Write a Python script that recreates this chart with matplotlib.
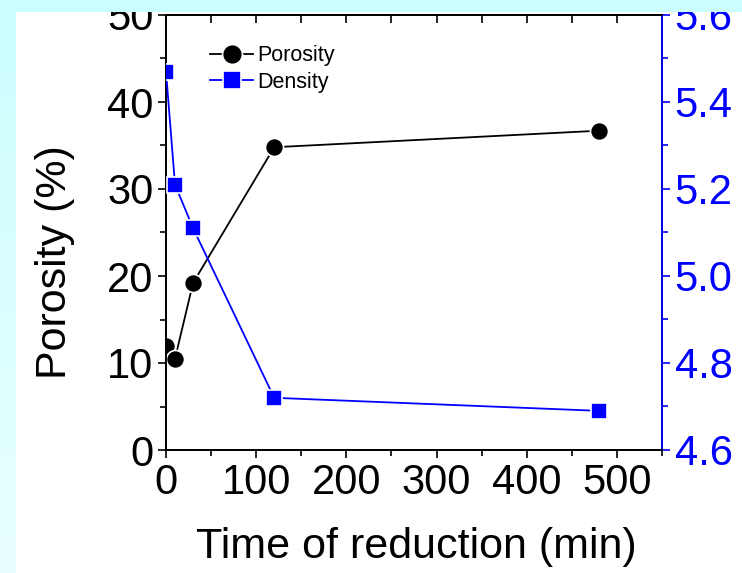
import matplotlib
matplotlib.use("Agg")
import matplotlib.pyplot as plt
import numpy as np
from matplotlib.ticker import MultipleLocator
from matplotlib.patches import Rectangle

plt.rcParams["font.family"] = ["Liberation Sans", "DejaVu Sans"]

# data
time_por = [0, 10, 30, 120, 480]
porosity = [11.9, 10.5, 19.2, 34.8, 36.7]
time_den = [0, 10, 30, 120, 480]
density = [5.47, 5.21, 5.11, 4.72, 4.69]

fig = plt.figure(figsize=(7.42, 5.73), dpi=100)
fig.patch.set_facecolor("white")

ax = fig.add_axes([166 / 742, 1 - 450 / 573, (662 - 166) / 742, (450 - 15) / 573])
ax.set_facecolor("none")
ax2 = ax.twinx()
ax2.set_facecolor("none")

l1, = ax.plot(time_por, porosity, color="black", lw=1.3, marker="o", ms=13,
              mec="white", mew=1.2, label="Porosity", zorder=3)
l2, = ax2.plot(time_den, density, color="blue", lw=1.3, marker="s", ms=12,
               mec="white", mew=1.2, label="Density", zorder=3)

ax.set_xlim(0, 550)
ax.set_ylim(0, 50)
ax2.set_ylim(4.6, 5.6)

ax.xaxis.set_major_locator(MultipleLocator(100))
ax.xaxis.set_minor_locator(MultipleLocator(50))
ax.yaxis.set_major_locator(MultipleLocator(10))
ax.yaxis.set_minor_locator(MultipleLocator(5))
ax2.yaxis.set_major_locator(MultipleLocator(0.2))
ax2.yaxis.set_minor_locator(MultipleLocator(0.1))

ax.tick_params(which="both", direction="out", labelsize=30, width=1.2, pad=3)
ax.tick_params(which="major", length=6)
ax.tick_params(which="minor", length=4)
ax2.tick_params(which="both", direction="out", colors="blue", labelsize=30, width=1.2, pad=3)
ax2.tick_params(which="major", length=6)
ax2.tick_params(which="minor", length=4)

top = ax.secondary_xaxis("top")
top.xaxis.set_major_locator(MultipleLocator(50))
top.tick_params(direction="in", length=6, width=1.2, labeltop=False)

for a in (ax, ax2):
    for s in a.spines.values():
        s.set_linewidth(1.3)
ax2.spines["right"].set_color("blue")
top.spines["top"].set_linewidth(1.3)

ax.set_xlabel("Time of reduction (min)", fontsize=31)
ax.xaxis.set_label_coords(0.505, -0.178)
ax.set_ylabel("Porosity (%)", fontsize=31)
ax.yaxis.set_label_coords(-0.183, 0.432)

ax.legend(handles=[l1, l2], loc="upper left", bbox_to_anchor=(0.05, 0.975), frameon=False,
          fontsize=15.5, handlelength=2.0, handletextpad=0.2, labelspacing=0.25,
          markerscale=1.1)

# cyan page border over the top and left edge
fig.add_artist(Rectangle((0, 1 - 12 / 573), 1, 12 / 573, transform=fig.transFigure,
                         facecolor="#ccfdfd", edgecolor="none", zorder=20))
strip = fig.add_axes([0, 0, 16 / 742, 1 - 12 / 573], zorder=20)
grad = np.linspace(0, 1, 256).reshape(-1, 1)
strip.imshow(grad, aspect="auto", cmap=matplotlib.colors.LinearSegmentedColormap.from_list(
    "bg", ["#ccfdfd", "#e8ffff"]))
strip.set_axis_off()

fig.savefig("out.png", dpi=100, facecolor=fig.get_facecolor())
